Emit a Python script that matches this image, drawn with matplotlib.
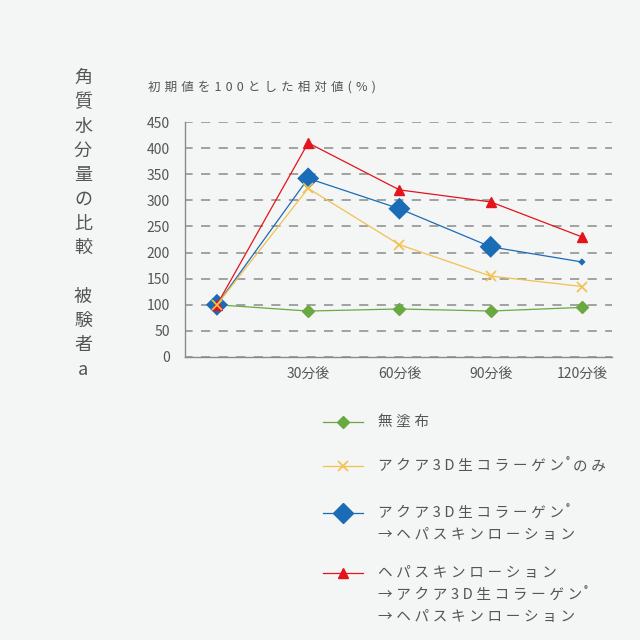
import matplotlib.pyplot as plt
from matplotlib.lines import Line2D

plt.rcParams['font.family'] = ['Noto Sans CJK JP', 'DejaVu Sans']

# data
positions = [0, 1, 2, 3, 4]
time_labels = ['', '30分後', '60分後', '90分後', '120分後']
none_applied = [100, 88, 92, 88, 95]
collagen_only = [100, 323, 215, 155, 135]
collagen_then_lotion = [100, 342, 284, 211, 182]
lotion_collagen_lotion = [100, 410, 320, 297, 230]
y_ticks = [0, 50, 100, 150, 200, 250, 300, 350, 400, 450]

legend_labels = [
    ['無塗布'],
    ['アクア3D生コラーゲン®のみ'],
    ['アクア3D生コラーゲン®', '→ヘパスキンローション'],
    ['ヘパスキンローション', '→アクア3D生コラーゲン®', '→ヘパスキンローション'],
]
side_title = '角質水分量の比較 被験者a'
axis_title = '初期値を100とした相対値(%)'

BG = '#f4f5f5'
TXT = '#555555'
GREEN = '#6aa842'
YELLOW = '#f3c14c'
BLUE = '#1b6cb7'
RED = '#e3141c'


def spaced(s, gap):
    return gap.join(s)


fig = plt.figure(figsize=(6.4, 6.4), dpi=100, facecolor=BG)
renderer = fig.canvas.get_renderer()


def tracked_text(x_px, y_px, s, size, gap):
    # text with wide tracking and a small raised ® like the original
    parts = s.split('®')
    x = x_px / 640
    for i, part in enumerate(parts):
        if part:
            t = fig.text(x, 1 - y_px / 640, spaced(part, gap), fontsize=size, color=TXT,
                         ha='left', va='center')
            x = fig.transFigure.inverted().transform(
                (t.get_window_extent(renderer).x1, 0))[0]
        if i < len(parts) - 1:
            t = fig.text(x + 2 / 640, 1 - (y_px - 5) / 640, '®', fontsize=size * 0.55,
                         color=TXT, ha='left', va='center')
            x = fig.transFigure.inverted().transform(
                (t.get_window_extent(renderer).x1 + 3, 0))[0]


ax = fig.add_axes([185 / 640, 1 - 357 / 640, 427 / 640, 235 / 640])
ax.set_facecolor(BG)

ax.plot(positions, none_applied, color=GREEN, lw=0.9, marker='D', ms=5.8, zorder=3)
ax.plot(positions, collagen_then_lotion, color=BLUE, lw=0.9, zorder=4)
ax.scatter(positions, collagen_then_lotion, s=[125, 125, 125, 125, 14], marker='D',
           color=BLUE, zorder=4, linewidths=0)
ax.plot(positions, lotion_collagen_lotion, color=RED, lw=0.9, marker='^', ms=6.5, zorder=5)
ax.plot(positions, collagen_only, color=YELLOW, lw=0.9, marker='x', ms=6.5, mew=1.2, zorder=6)

ax.set_xlim(-0.35, 4.33)
ax.set_ylim(0, 450)
ax.set_yticks(y_ticks)
ax.set_xticks(positions)
ax.set_xticklabels(time_labels)
ax.tick_params(length=0, labelsize=10, colors=TXT)
ax.tick_params(axis='y', pad=11)
ax.tick_params(axis='x', pad=7)
ax.yaxis.grid(True, linestyle=(1, (6, 5.5)), color='#8a8a8a', lw=1.1)
ax.set_axisbelow(True)
for side in ['top', 'right']:
    ax.spines[side].set_visible(False)
for side in ['left', 'bottom']:
    ax.spines[side].set_color('#8a8a8a')
    ax.spines[side].set_linewidth(1.0)

tracked_text(148, 87, axis_title, 9, '\u2004')

# vertical side title
y = 78
for ch in side_title:
    if ch != ' ':
        fig.text(83 / 640, 1 - y / 640, ch, fontsize=13, color=TXT, ha='center', va='center')
    y += 24.3

# hand-built legend
styles = [
    dict(color=GREEN, marker='D', ms=6.5),
    dict(color=YELLOW, marker='x', ms=7, mew=1.2),
    dict(color=BLUE, marker='D', ms=10.5),
    dict(color=RED, marker='^', ms=7.5),
]
rows = [422, 466, 513, 573]
for lines, st, yr in zip(legend_labels, styles, rows):
    yf = 1 - yr / 640
    fig.add_artist(Line2D([323 / 640, 363 / 640], [yf, yf], color=st['color'], lw=0.9,
                          transform=fig.transFigure))
    fig.add_artist(Line2D([343 / 640], [yf], linestyle='none', transform=fig.transFigure, **st))
    for i, txt in enumerate(lines):
        tracked_text(378, yr + i * 22, txt, 10.5, '\u2005')

fig.savefig('out.png', dpi=100, facecolor=BG)
